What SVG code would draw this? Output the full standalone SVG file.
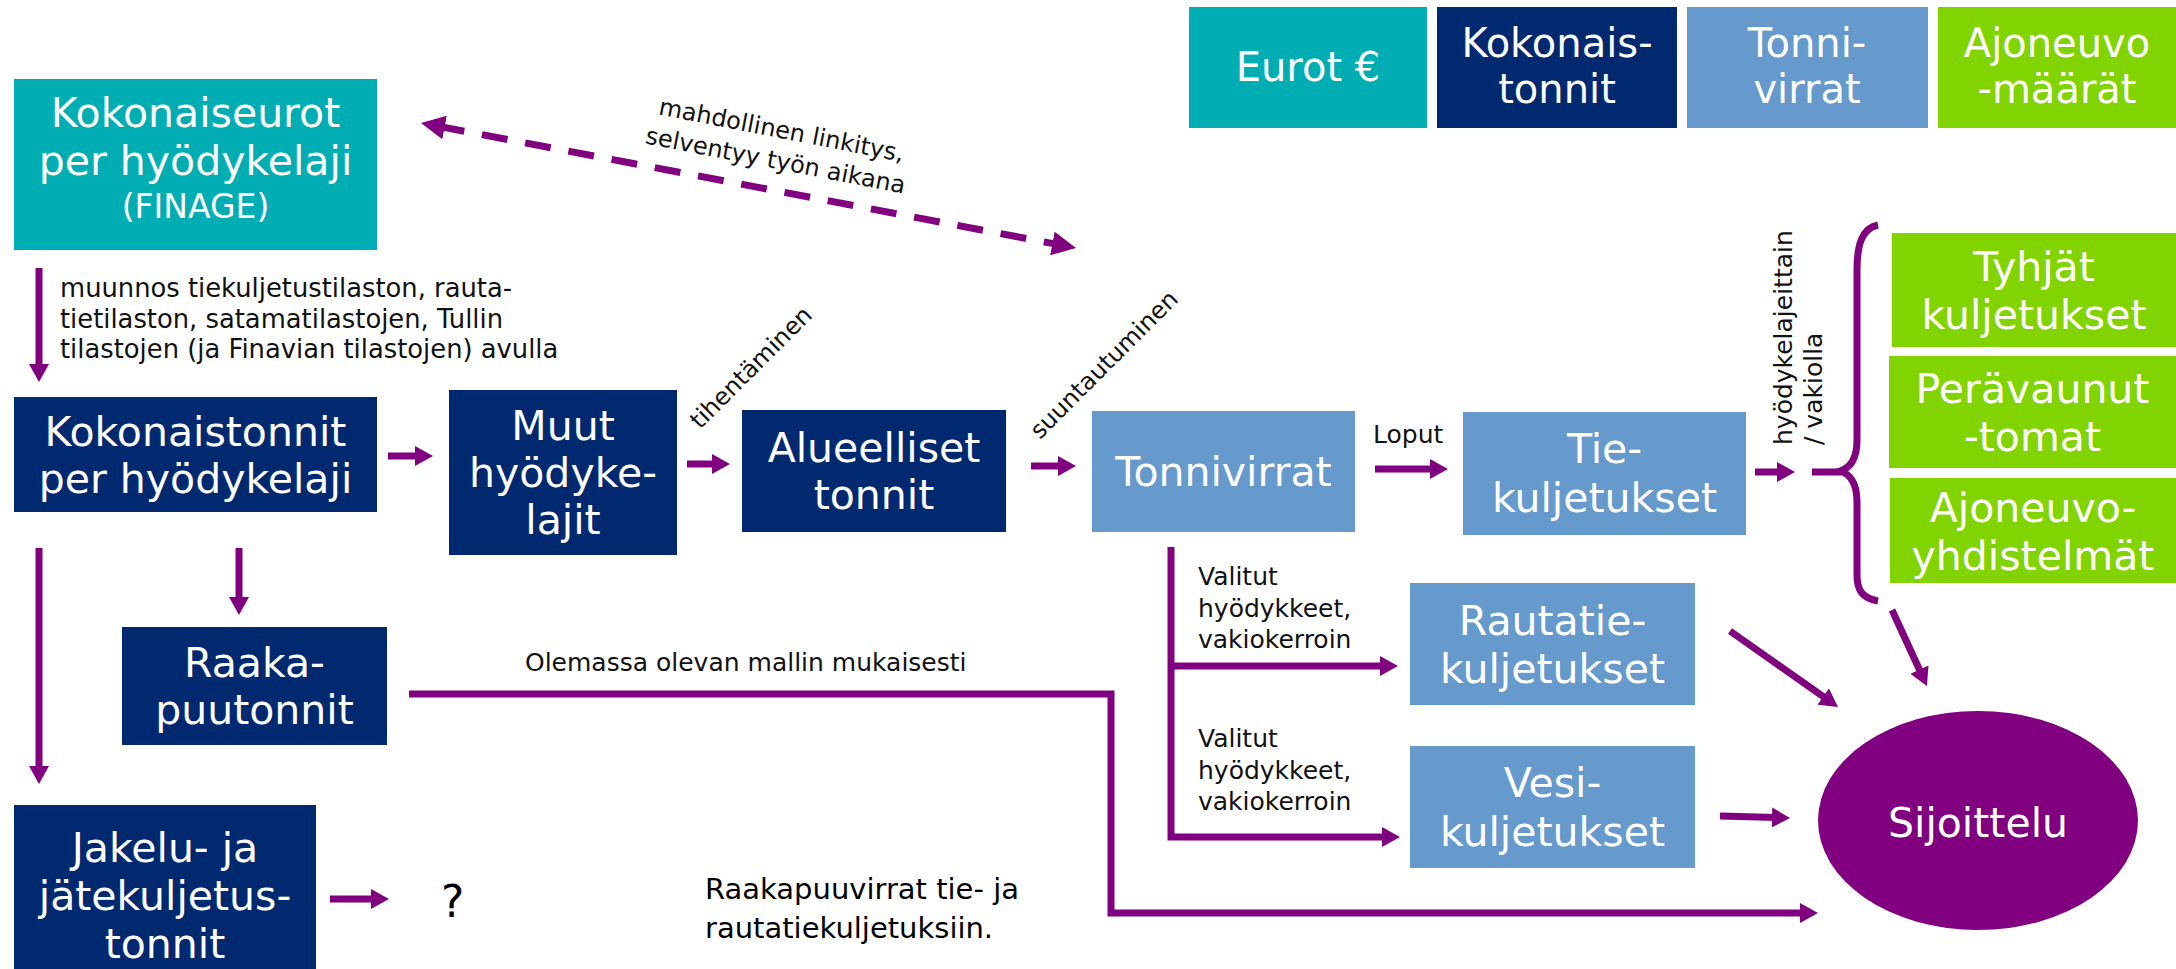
<svg xmlns="http://www.w3.org/2000/svg" width="2176" height="969" viewBox="0 0 2176 969">
<style>
.n text{font-family:"DejaVu Sans",Verdana,sans-serif;font-size:41px;fill:#fff;text-anchor:middle}
.lg text{font-size:40px}
.teal{fill:#00adb3}.navy{fill:#002970}.blue{fill:#6699cc}.green{fill:#82d400}.purple{fill:#800080}
.lbl{font-family:"DejaVu Sans",Verdana,sans-serif;font-size:25px;fill:#111}
.conn path{stroke:#800080;stroke-width:7;fill:none;stroke-linejoin:miter}
</style>
<defs>
<marker id="ah" markerUnits="userSpaceOnUse" markerWidth="18" markerHeight="20" viewBox="0 0 18 20" refX="4" refY="10" orient="auto"><path d="M0,0 L18,10 L0,20 Z" fill="#800080"/></marker>
<marker id="dh" markerUnits="userSpaceOnUse" markerWidth="24" markerHeight="24" viewBox="0 0 24 24" refX="6" refY="12" orient="auto-start-reverse"><path d="M0,0 L24,12 L0,24 Z" fill="#800080"/></marker>
</defs>

<!-- legend -->
<g id="legend-eurot" class="n lg"><rect class="teal" x="1189" y="7" width="238" height="121"/><text x="1308" y="81">Eurot €</text></g>
<g id="legend-kokonaistonnit" class="n lg"><rect class="navy" x="1437" y="7" width="240" height="121"/><text x="1557" y="57">Kokonais-</text><text x="1557" y="103">tonnit</text></g>
<g id="legend-tonnivirrat" class="n lg"><rect class="blue" x="1687" y="7" width="241" height="121"/><text x="1807" y="57">Tonni-</text><text x="1807" y="103">virrat</text></g>
<g id="legend-ajoneuvomaarat" class="n lg"><rect class="green" x="1938" y="7" width="238" height="121"/><text x="2057" y="57">Ajoneuvo</text><text x="2057" y="103">-määrät</text></g>

<!-- nodes -->
<g id="kokonaiseurot" class="n"><rect class="teal" x="14" y="79" width="363" height="171"/><text x="195.5" y="127">Kokonaiseurot</text><text x="195.5" y="175">per hyödykelaji</text><text x="195.5" y="218" style="font-size:33px">(FINAGE)</text></g>
<g id="kokonaistonnit" class="n"><rect class="navy" x="14" y="397" width="363" height="115"/><text x="195.5" y="446">Kokonaistonnit</text><text x="195.5" y="493">per hyödykelaji</text></g>
<g id="muut" class="n"><rect class="navy" x="449" y="390" width="228" height="165"/><text x="563" y="440">Muut</text><text x="563" y="487">hyödyke-</text><text x="563" y="534">lajit</text></g>
<g id="alueelliset" class="n"><rect class="navy" x="742" y="410" width="264" height="122"/><text x="874" y="462">Alueelliset</text><text x="874" y="509">tonnit</text></g>
<g id="tonnivirrat" class="n"><rect class="blue" x="1092" y="411" width="263" height="121"/><text x="1223.5" y="486">Tonnivirrat</text></g>
<g id="tie" class="n"><rect class="blue" x="1463" y="412" width="283" height="123"/><text x="1604.5" y="463">Tie-</text><text x="1604.5" y="512">kuljetukset</text></g>
<g id="rautatie" class="n"><rect class="blue" x="1410" y="583" width="285" height="122"/><text x="1552.5" y="635">Rautatie-</text><text x="1552.5" y="683">kuljetukset</text></g>
<g id="vesi" class="n"><rect class="blue" x="1410" y="746" width="285" height="122"/><text x="1552.5" y="797">Vesi-</text><text x="1552.5" y="846">kuljetukset</text></g>
<g id="raakapuutonnit" class="n"><rect class="navy" x="122" y="627" width="265" height="118"/><text x="254.5" y="677">Raaka-</text><text x="254.5" y="724">puutonnit</text></g>
<g id="jakelu" class="n"><rect class="navy" x="14" y="805" width="302" height="170"/><text x="165" y="862">Jakelu- ja</text><text x="165" y="910">jätekuljetus-</text><text x="165" y="958">tonnit</text></g>
<g id="tyhjat" class="n"><rect class="green" x="1892" y="233" width="284" height="114"/><text x="2034" y="281">Tyhjät</text><text x="2034" y="329">kuljetukset</text></g>
<g id="peravaunut" class="n"><rect class="green" x="1889" y="356" width="287" height="112"/><text x="2032.5" y="403">Perävaunut</text><text x="2032.5" y="451">-tomat</text></g>
<g id="ajoneuvoyhdistelmat" class="n"><rect class="green" x="1890" y="478" width="286" height="105"/><text x="2033" y="522">Ajoneuvo-</text><text x="2033" y="570">yhdistelmät</text></g>
<g id="sijoittelu" class="n"><ellipse class="purple" cx="1978" cy="820.5" rx="160" ry="109.5"/><text x="1978" y="837">Sijoittelu</text></g>

<!-- connectors -->
<g id="connectors" class="conn">
<path d="M438.7,126.4 L1058.3,244.6" stroke-dasharray="26 18" marker-start="url(#dh)" marker-end="url(#dh)"/>
<path d="M39,268 V368" marker-end="url(#ah)"/>
<path d="M388,456 H419" marker-end="url(#ah)"/>
<path d="M687,464 H716" marker-end="url(#ah)"/>
<path d="M1031,466 H1062" marker-end="url(#ah)"/>
<path d="M1375,469 H1434" marker-end="url(#ah)"/>
<path d="M1755,472 H1781" marker-end="url(#ah)"/>
<path d="M39,548 V770" marker-end="url(#ah)"/>
<path d="M239,548 V601" marker-end="url(#ah)"/>
<path d="M330,899 H375" marker-end="url(#ah)"/>
<path d="M1171,547 V837 H1386" marker-end="url(#ah)"/>
<path d="M1171,666 H1384" marker-end="url(#ah)"/>
<path d="M409,694 H1111 V913 H1804" marker-end="url(#ah)"/>
<path d="M1730,631 L1826.5,698.9" marker-end="url(#ah)"/>
<path d="M1720,816 L1776,817.6" marker-end="url(#ah)"/>
<path d="M1892,610 L1921.1,673.3" marker-end="url(#ah)"/>
<path d="M1878,225 C1862,228 1857,245 1857,270 L1857,440 C1857,460 1850,468 1840,471 C1850,474 1857,482 1857,502 L1857,575 C1857,590 1862,598 1878,601" stroke-width="5"/>
<path d="M1812,472 H1841"/>
</g>

<!-- labels -->
<g id="labels">
<g transform="translate(780,138) rotate(11)"><text class="lbl" style="font-size:24px" text-anchor="middle" x="0" y="0">mahdollinen linkitys,</text><text class="lbl" style="font-size:24px" text-anchor="middle" x="0" y="31">selventyy työn aikana</text></g>
<text class="lbl" style="font-size:25.8px" x="60" y="297">muunnos tiekuljetustilaston, rauta-</text>
<text class="lbl" style="font-size:25.8px" x="60" y="328">tietilaston, satamatilastojen, Tullin</text>
<text class="lbl" style="font-size:25.8px" x="60" y="358">tilastojen (ja Finavian tilastojen) avulla</text>
<text class="lbl" style="font-size:24px" transform="translate(700,430) rotate(-45)">tihentäminen</text>
<text class="lbl" style="font-size:24px" transform="translate(1040,440) rotate(-45)">suuntautuminen</text>
<text class="lbl" x="1373" y="443">Loput</text>
<text class="lbl" transform="translate(1792,445) rotate(-90)">hyödykelajeittain</text>
<text class="lbl" transform="translate(1822,445) rotate(-90)">/ vakiolla</text>
<text class="lbl" x="1198" y="585">Valitut</text>
<text class="lbl" x="1198" y="617">hyödykkeet,</text>
<text class="lbl" x="1198" y="648">vakiokerroin</text>
<text class="lbl" x="1198" y="747">Valitut</text>
<text class="lbl" x="1198" y="779">hyödykkeet,</text>
<text class="lbl" x="1198" y="810">vakiokerroin</text>
<text class="lbl" x="525" y="671">Olemassa olevan mallin mukaisesti</text>
<text class="lbl" style="font-size:44px;fill:#000" x="441" y="917">?</text>
<text class="lbl" style="font-size:29px;fill:#000" x="705" y="899">Raakapuuvirrat tie- ja</text>
<text class="lbl" style="font-size:29px;fill:#000" x="705" y="938">rautatiekuljetuksiin.</text>
</g>
</svg>
